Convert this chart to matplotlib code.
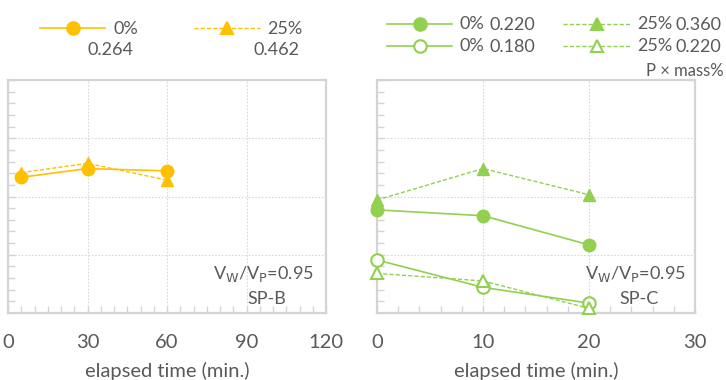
import matplotlib
matplotlib.use("Agg")
import matplotlib.pyplot as plt
from matplotlib.lines import Line2D
from matplotlib.ticker import MultipleLocator

plt.rcParams['font.family'] = ['Lato', 'DejaVu Sans']

# ---- data (arbitrary y units) ----
b_time = [5, 30, 60]
b_0 = [2.33, 2.48, 2.44]
b_25 = [2.41, 2.57, 2.28]

c_time = [0, 10, 20]
c_0_220 = [1.77, 1.67, 1.17]
c_25_360 = [1.94, 2.48, 2.03]
c_0_180 = [0.91, 0.44, 0.17]
c_25_220 = [0.68, 0.55, 0.08]

b_xticks = [0, 30, 60, 90, 120]
c_xticks = [0, 10, 20, 30]

YEL = '#FFC000'
GRN = '#92D050'
TXT = '#595959'
SP = '#D4D4D4'
GRID = '#D9D9D9'

W, H = 726, 380
fig = plt.figure(figsize=(W / 100, H / 100), dpi=100)

def px_axes(x0, y0, x1, y1):
    return fig.add_axes([x0 / W, 1 - y1 / H, (x1 - x0) / W, (y1 - y0) / H])

axB = px_axes(8, 80, 326, 313)
axC = px_axes(377, 80, 695, 313)

def style(ax, xmax, major, minor):
    ax.set_xlim(0, xmax)
    ax.set_ylim(0, 4)
    ax.xaxis.set_major_locator(MultipleLocator(major))
    ax.xaxis.set_minor_locator(MultipleLocator(minor))
    ax.yaxis.set_major_locator(MultipleLocator(1))
    ax.yaxis.set_minor_locator(MultipleLocator(0.2))
    ax.grid(True, which='major', color=GRID, linestyle=(0, (1.5, 1.5)), linewidth=0.8)
    for s in ax.spines.values():
        s.set_color(SP)
        s.set_linewidth(1.6)
    ax.tick_params(axis='both', which='both', direction='in', color=SP,
                   width=1.0, labelcolor=TXT, labelsize=14.5)
    ax.tick_params(axis='both', which='major', length=5)
    ax.tick_params(axis='both', which='minor', length=5)
    ax.tick_params(axis='x', pad=15)
    ax.tick_params(axis='y', labelleft=False)
    ax.set_xlabel('elapsed time (min.)', color=TXT, fontsize=14.5, labelpad=8)

style(axB, 120, 30, 5)
style(axC, 30, 10, 2)
axB.set_xticks(b_xticks)
axC.set_xticks(c_xticks)

ms = 9
dash = (0, (3, 1.5))
axB.plot(b_time, b_0, color=YEL, lw=1.2, marker='o', ms=ms, clip_on=False, zorder=3)
axB.plot(b_time, b_25, color=YEL, lw=1.0, ls=dash, marker='^', ms=ms, clip_on=False, zorder=3)

axC.plot(c_time, c_0_220, color=GRN, lw=1.2, marker='o', ms=ms, clip_on=False, zorder=3)
axC.plot(c_time, c_25_360, color=GRN, lw=1.0, ls=dash, marker='^', ms=ms, clip_on=False, zorder=3)
axC.plot(c_time, c_0_180, color=GRN, lw=1.2, marker='o', ms=ms, mfc='white', mew=1.5, clip_on=False, zorder=3)
axC.plot(c_time, c_25_220, color=GRN, lw=1.0, ls=dash, marker='^', ms=ms, mfc='white', mew=1.5, clip_on=False, zorder=3)

# annotations
for ax, name, xr, xc in ((axB, 'SP-B', 0.962, 0.814), (axC, 'SP-C', 0.972, 0.824)):
    ax.text(xr, 0.167, r'V$_\mathrm{W}$/V$_\mathrm{P}$=0.95', transform=ax.transAxes,
            ha='right', va='center', color=TXT, fontsize=13)
    ax.text(xc, 0.06, name, transform=ax.transAxes, ha='center', va='center',
            color=TXT, fontsize=13)

# ---- legends (manual, in pixel coords) ----
def fx(x):
    return x / W

def fy(y):
    return 1 - y / H

def sample(x0, x1, y, color, ls, lw, marker, mfc):
    fig.add_artist(Line2D([fx(x0), fx(x1)], [fy(y), fy(y)], color=color, ls=ls, lw=lw,
                          transform=fig.transFigure))
    fig.add_artist(Line2D([fx((x0 + x1) / 2)], [fy(y)], color=color, marker=marker, ms=ms,
                          mfc=mfc, mew=1.5, ls='none', transform=fig.transFigure))

def ftext(x, y, s, ha='left', size=13):
    fig.text(fx(x), fy(y), s, ha=ha, va='center', color=TXT, fontsize=size)

sample(40, 105, 28, YEL, '-', 1.2, 'o', YEL)
ftext(113, 29, '0%')
ftext(133, 50, '0.264', ha='right')
sample(194, 260, 28, YEL, dash, 1.0, '^', YEL)
ftext(267, 29, '25%')
ftext(300, 50, '0.462', ha='right')

sample(387, 452, 24, GRN, '-', 1.2, 'o', GRN)
ftext(460, 24, '0%')
ftext(489, 25, '0.220')
sample(387, 452, 46, GRN, '-', 1.2, 'o', 'white')
ftext(460, 46, '0%')
ftext(489, 47, '0.180')
sample(563, 630, 24, GRN, dash, 1.0, '^', GRN)
ftext(637, 24, '25%')
ftext(676, 25, '0.360')
sample(563, 630, 46, GRN, dash, 1.0, '^', 'white')
ftext(637, 46, '25%')
ftext(676, 47, '0.220')
ftext(724, 71, 'P × mass%', ha='right', size=12)

fig.savefig('out.png', dpi=100)
